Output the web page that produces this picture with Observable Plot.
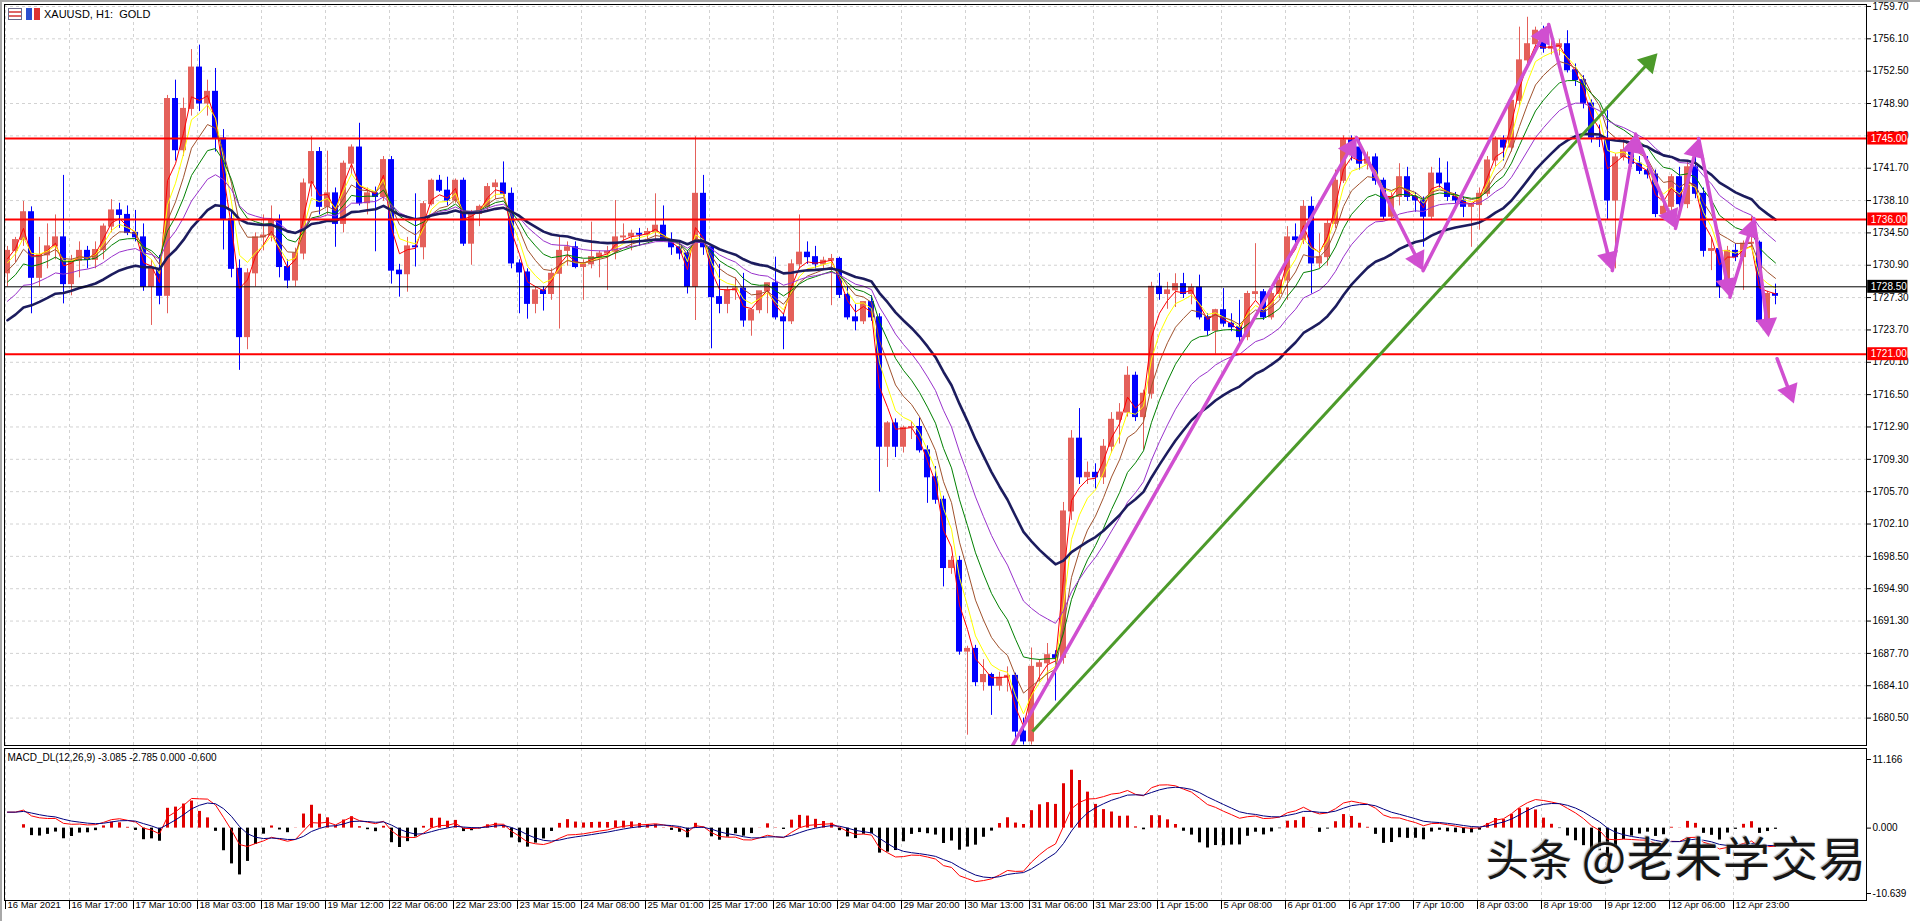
<!DOCTYPE html>
<html><head><meta charset="utf-8">
<script src="https://cdn.jsdelivr.net/npm/d3@7"></script>
<script src="https://cdn.jsdelivr.net/npm/@observablehq/plot@0.6"></script>
<style>
html,body{margin:0;padding:0;background:#fff;width:1920px;height:921px;overflow:hidden;font-family:"Liberation Sans",Arial,sans-serif;}
#wrap{position:relative;width:1920px;height:921px;}
#wrap svg{display:block;}
#title{position:absolute;left:44px;top:8px;font-size:11px;color:#000;white-space:pre;}
.ic{position:absolute;top:8px;width:14px;height:12px;box-sizing:border-box;}
#ic1{left:8px;border:1px solid #6a6a8a;background:linear-gradient(#fff 0 2px,#d66 2px 4px,#fff 4px 6px,#d66 6px 8px,#fff 8px);}
#ic2{left:26px;background:linear-gradient(90deg,#2a4fd0 0 6px,#fff 6px 8px,#d33 8px);}
#wm{position:absolute;left:1486px;top:821px;font-family:"Noto Sans CJK SC",sans-serif;color:#161616;white-space:pre;text-shadow:2px 2px 1px rgba(255,255,255,0.9),-1px -1px 1px rgba(120,120,120,0.6);}
#wm .a{font-size:43px;}
#wm .b{font-size:47px;letter-spacing:1px;}
#topline{position:absolute;left:0;top:0;width:1920px;height:2px;background:#a8a8a8;}
#leftline{position:absolute;left:0;top:0;width:2px;height:921px;background:#a8a8a8;}
</style></head>
<body><div id="wrap"></div>
<script>
// ---------- data (2-hour candles) ----------
const open = [1730.0,1732.5,1733.7,1736.8,1729.5,1732.0,1733.0,1734.0,1728.8,1731.4,
1732.5,1731.5,1732.6,1735.2,1737.0,1736.5,1734.5,1734.0,1728.5,1730.5,
1727.5,1749.4,1743.7,1748.3,1752.9,1748.9,1750.2,1745.0,1736.0,1730.5,
1722.9,1730.0,1734.0,1734.2,1735.9,1730.7,1729.2,1732.2,1740.0,1743.5,
1737.4,1738.9,1735.5,1742.2,1744.0,1737.8,1738.9,1738.5,1742.6,1730.3,
1729.9,1733.0,1732.9,1737.7,1740.3,1739.2,1738.1,1740.3,1733.3,1736.6,
1737.4,1739.6,1740.0,1738.85,1731.1,1730.1,1726.6,1728.1,1727.7,1729.95,
1732.5,1732.9,1730.7,1731.0,1731.8,1732.2,1732.4,1734.0,1734.1,1734.4,
1734.3,1734.6,1735.3,1733.66,1732.9,1732.2,1728.5,1738.85,1732.9,1727.35,
1726.6,1728.1,1728.3,1724.75,1725.9,1728.0,1728.9,1725.1,1724.66,1731.0,
1732.3,1731.8,1731.0,1731.4,1731.6,1727.6,1725.1,1724.66,1726.8,1725.1,
1710.7,1713.3,1710.7,1712.8,1712.9,1710.3,1707.3,1704.8,1697.2,1698.0,
1687.9,1688.2,1684.5,1685.3,1684.1,1685.0,1685.2,1679.0,1677.9,1686.2,
1686.6,1687.5,1687.2,1703.5,1711.6,1707.3,1707.8,1707.3,1710.7,1713.7,
1714.5,1718.6,1714.0,1716.6,1728.5,1727.7,1728.1,1728.8,1727.7,1728.4,
1725.1,1723.6,1725.9,1724.4,1724.0,1722.9,1727.7,1727.9,1725.1,1727.7,
1729.2,1734.0,1733.7,1737.4,1731.1,1731.8,1735.5,1740.3,1744.8,1744.0,
1742.2,1742.9,1740.3,1736.3,1738.5,1740.7,1738.5,1738.1,1736.3,1741.1,
1740.0,1738.5,1738.1,1737.4,1737.6,1738.85,1742.56,1744.8,1744.0,1749.2,
1753.7,1755.5,1757.0,1755.0,1755.2,1755.5,1752.6,1751.5,1748.9,1745.1,
1744.9,1738.1,1742.9,1743.7,1742.2,1741.4,1741.0,1736.6,1737.4,1740.7,
1737.7,1741.8,1738.85,1732.5,1732.7,1728.5,1732.5,1731.8,1733.3,1733.4,
1724.6,1727.7];
const high = [1733.0,1734.0,1738.0,1737.4,1734.0,1735.5,1736.5,1740.9,1732.0,1733.5,
1733.0,1733.5,1735.5,1738.2,1737.8,1737.5,1737.0,1735.5,1731.5,1732.0,
1749.8,1751.5,1749.5,1754.9,1755.4,1751.5,1752.8,1746.0,1737.0,1731.5,
1730.5,1734.5,1736.5,1737.5,1736.5,1731.5,1732.8,1740.5,1745.2,1744.0,
1743.6,1739.5,1742.5,1744.3,1746.7,1739.5,1739.6,1743.0,1743.0,1731.0,
1734.0,1738.85,1738.0,1740.5,1740.9,1740.7,1740.5,1740.6,1737.0,1737.6,
1740.0,1740.4,1742.4,1739.5,1731.5,1730.5,1728.5,1728.5,1730.5,1734.0,
1733.5,1733.5,1731.5,1735.7,1732.5,1733.0,1738.1,1735.5,1734.8,1735.0,
1735.0,1738.85,1737.5,1734.5,1733.5,1732.5,1745.2,1740.9,1733.0,1731.0,
1728.5,1729.5,1730.0,1726.0,1727.8,1728.6,1731.8,1725.5,1731.5,1736.5,
1733.5,1733.0,1731.8,1732.1,1731.8,1728.5,1726.5,1726.8,1727.5,1725.5,
1713.5,1713.8,1713.0,1713.5,1713.9,1710.8,1708.5,1705.2,1698.5,1698.5,
1688.5,1688.6,1687.0,1685.5,1685.6,1686.2,1685.5,1680.5,1688.3,1687.0,
1688.8,1688.0,1704.5,1712.5,1714.95,1709.0,1708.8,1711.5,1714.5,1715.5,
1719.6,1719.0,1717.0,1729.0,1730.0,1729.0,1729.95,1730.0,1728.8,1729.8,
1725.5,1726.0,1728.3,1725.5,1727.0,1728.0,1733.3,1728.2,1728.2,1729.6,
1735.2,1735.5,1738.1,1738.5,1734.4,1736.0,1741.5,1745.3,1745.3,1745.0,
1743.5,1743.3,1740.6,1739.0,1742.2,1741.8,1739.0,1738.5,1741.8,1742.8,
1742.4,1739.0,1738.5,1737.8,1739.5,1743.0,1745.2,1745.3,1749.5,1757.4,
1758.5,1757.4,1757.5,1755.8,1756.0,1757.0,1753.3,1752.0,1749.3,1746.5,
1748.1,1743.3,1745.0,1744.6,1743.0,1743.0,1741.5,1738.5,1741.0,1741.8,
1742.5,1743.1,1739.5,1734.0,1733.0,1733.0,1733.3,1733.6,1736.3,1733.6,
1728.0,1728.8];
const low = [1728.5,1731.2,1733.0,1725.5,1728.5,1730.5,1731.5,1726.6,1727.5,1729.5,
1730.5,1730.5,1731.5,1734.5,1735.0,1734.2,1733.5,1728.0,1724.2,1726.5,
1725.5,1742.5,1743.0,1747.5,1748.0,1747.5,1743.5,1732.6,1729.5,1719.2,
1721.5,1728.5,1732.5,1733.5,1729.5,1728.3,1728.5,1731.5,1738.5,1736.5,
1736.5,1732.9,1734.5,1741.0,1737.5,1736.5,1732.4,1738.0,1728.8,1727.35,
1727.9,1730.7,1731.5,1737.5,1739.0,1737.5,1737.8,1733.0,1730.9,1735.2,
1737.0,1738.2,1738.5,1730.5,1725.5,1724.9,1725.5,1725.8,1727.0,1723.8,
1730.8,1730.5,1727.0,1730.5,1729.5,1728.1,1731.5,1733.5,1732.5,1733.0,
1733.5,1733.8,1733.5,1732.0,1731.5,1727.7,1724.75,1732.0,1721.6,1725.5,
1725.5,1727.0,1724.0,1723.0,1725.5,1725.5,1724.8,1721.5,1724.3,1730.5,
1731.0,1730.5,1730.5,1726.4,1727.2,1724.8,1723.6,1724.3,1724.66,1705.65,
1708.4,1709.5,1710.0,1711.5,1710.0,1704.4,1704.3,1695.1,1696.5,1687.5,
1678.6,1684.0,1683.5,1680.8,1683.5,1683.4,1677.8,1677.5,1677.5,1684.5,
1684.5,1682.4,1686.5,1702.5,1706.5,1706.5,1706.0,1706.5,1710.0,1711.0,
1714.0,1713.5,1710.3,1716.0,1727.0,1726.0,1726.2,1727.2,1726.5,1724.8,
1723.0,1721.0,1724.0,1723.5,1721.8,1722.5,1727.0,1724.76,1724.8,1727.2,
1727.0,1733.0,1733.2,1727.7,1730.5,1730.8,1735.0,1740.0,1742.5,1741.5,
1741.5,1739.8,1735.9,1736.0,1737.5,1738.0,1736.8,1732.9,1736.0,1739.5,
1738.0,1737.5,1736.2,1732.9,1734.8,1738.5,1741.8,1742.5,1743.5,1748.5,
1753.0,1754.5,1754.5,1754.3,1754.2,1752.3,1750.8,1748.3,1744.5,1744.0,
1735.9,1730.5,1742.5,1741.8,1741.0,1740.5,1736.2,1736.0,1736.8,1737.0,
1737.2,1738.3,1731.8,1730.3,1727.2,1728.0,1731.3,1728.1,1732.8,1724.3,
1723.8,1726.5];
const close = [1732.5,1733.7,1736.8,1729.5,1732.0,1733.0,1734.0,1728.8,1731.4,1732.5,
1731.5,1732.6,1735.2,1737.0,1736.5,1734.5,1734.0,1728.5,1730.5,1727.5,
1749.4,1743.7,1748.3,1752.9,1748.9,1750.2,1745.0,1736.0,1730.5,1722.9,
1730.0,1734.0,1734.2,1735.9,1730.7,1729.2,1732.2,1740.0,1743.5,1737.4,
1738.9,1735.5,1742.2,1744.0,1737.8,1738.9,1738.5,1742.6,1730.3,1729.9,
1733.0,1732.9,1737.7,1740.3,1739.2,1738.1,1740.3,1733.3,1736.6,1737.4,
1739.6,1740.0,1738.85,1731.1,1730.1,1726.6,1728.1,1727.7,1729.95,1732.5,
1732.9,1730.7,1731.0,1731.8,1732.2,1732.4,1734.0,1734.1,1734.4,1734.3,
1734.6,1735.3,1733.66,1732.9,1732.2,1728.5,1738.85,1732.9,1727.35,1726.6,
1728.1,1728.3,1724.75,1725.9,1728.0,1728.9,1725.1,1724.66,1731.0,1732.3,
1731.8,1731.0,1731.4,1731.6,1727.6,1725.1,1724.66,1726.8,1725.1,1710.7,
1713.3,1710.7,1712.8,1712.9,1710.3,1707.3,1704.8,1697.2,1698.0,1687.9,
1688.2,1684.5,1685.3,1684.1,1685.0,1685.2,1679.0,1677.9,1686.2,1686.6,
1687.5,1687.2,1703.5,1711.6,1707.3,1707.8,1707.3,1710.7,1713.7,1714.5,
1718.6,1714.0,1716.6,1728.5,1727.7,1728.1,1728.8,1727.7,1728.4,1725.1,
1723.6,1725.9,1724.4,1724.0,1722.9,1727.7,1727.9,1725.1,1727.7,1729.2,
1734.0,1733.7,1737.4,1731.1,1731.8,1735.5,1740.3,1744.8,1744.0,1742.2,
1742.9,1740.3,1736.3,1738.5,1740.7,1738.5,1738.1,1736.3,1741.1,1740.0,
1738.5,1738.1,1737.4,1737.6,1738.85,1742.56,1744.8,1744.0,1749.2,1753.7,
1755.5,1757.0,1755.0,1755.2,1755.5,1752.6,1751.5,1748.9,1745.1,1744.9,
1738.1,1742.9,1743.7,1742.2,1741.4,1741.0,1736.6,1737.4,1740.7,1737.7,
1741.8,1738.85,1732.5,1732.7,1728.5,1732.5,1731.8,1733.3,1733.4,1724.6,
1727.7,1727.5];

const xTickLabels = ["16 Mar 2021","16 Mar 17:00","17 Mar 10:00","18 Mar 03:00","18 Mar 19:00","19 Mar 12:00",
"22 Mar 06:00","22 Mar 23:00","23 Mar 15:00","24 Mar 08:00","25 Mar 01:00","25 Mar 17:00","26 Mar 10:00",
"29 Mar 04:00","29 Mar 20:00","30 Mar 13:00","31 Mar 06:00","31 Mar 23:00","1 Apr 15:00","5 Apr 08:00",
"6 Apr 01:00","6 Apr 17:00","7 Apr 10:00","8 Apr 03:00","8 Apr 19:00","9 Apr 12:00","12 Apr 06:00","12 Apr 23:00"];
const xTickHours = [0,16,32,48,64,80,96,112,128,144,160,176,192,208,224,240,256,272,288,304,320,336,352,368,384,400,416,432];
const yTickValues = [1680.5,1684.1,1687.7,1691.3,1694.9,1698.5,1702.1,1705.7,1709.3,1712.9,1716.5,1720.1,
1723.7,1727.3,1730.9,1734.5,1738.1,1741.7,1745.3,1748.9,1752.5,1756.1,1759.7];
const macdTickValues = [11.166, 0, -10.639];
const redLevels = [1745.0, 1736.0, 1721.0];
const blackLevels = [1728.5];
const maPeriods = [5, 8, 13, 21, 34, 55];
const maSeeds = [1730.5, 1730.3, 1729.5, 1728.3, 1726.2, 1724.2];
const macdSeeds = {fast: 1730.5, slow: 1727.8, signal: 2.6};
// bar = 2 * (DIF - DEA) as in the readout, with extra gain for the coarser 2-hour sampling
const histFactor = 2.6;
// drawn objects: [hour, price]
const pinkZigzag = [[251.75,1677.45],[337.75,1745.1],[354.4,1730.3],[385.8,1757.7],[401.7,1730.3],[407.5,1745.5],
[417.5,1735.0],[423.3,1745.0],[431.1,1727.35],[437.1,1736.1],[440.8,1722.9]];
const pinkExtra = [[442.9,1720.5],[447.1,1715.5]];
const greenTrend = [[256.75,1679.0],[413.0,1754.5]];
const titleText = "XAUUSD, H1:  GOLD";
const macdTitle = "MACD_DL(12,26,9) -3.085 -2.785 0.000 -0.600";
const watermarkA = "头条 ";
const watermarkB = "@老朱学交易";

// ---------- styling / layout ----------
const W = 1920;
const xDomain = [-0.25, 465.25];
const yDomain = [1677.45, 1759.92];
const macdDomain = [-11.778, 12.956];
const bull = "#E4605A", bear = "#0000FF";
const maColors = ["#FF0000", "#FFFF00", "#A0522D", "#008000", "#9932CC", "#1C1C5E"];
const maWidths = [1, 1, 1, 1, 1, 2.6];
const pink = "#D04FD0", green = "#4C9A2A";
const gridStroke = "#d2d2d2";
const font = "Liberation Sans, Arial, sans-serif";

const candles = close.map((c, j) => ({h: 2 * j + 0.5, o: open[j], hi: high[j], lo: low[j], c, up: c >= open[j]}));

function ema(src, period, seed) {
  const a1 = 2 / (period + 1);
  const a = 1 - (1 - a1) * (1 - a1); // two hourly steps per 2-hour candle
  let e = seed;
  return src.map(v => (e += a * (v - e)));
}
const mas = maPeriods.map((p, k) => ema(close, p, maSeeds[k]));
const fast = ema(close, 12, macdSeeds.fast), slow = ema(close, 26, macdSeeds.slow);
const macd = fast.map((f, i) => f - slow[i]);
const signal = ema(macd, 9, macdSeeds.signal);
const hist = macd.map((m, i) => histFactor * (m - signal[i]));

const sx = Plot.scale({x: {domain: xDomain, range: [4, 1866]}});
const sy = Plot.scale({y: {domain: yDomain, range: [745, 4]}});

function arrowParts(points, r) {
  const segs = [], heads = [];
  for (let i = 1; i < points.length; i++) {
    const a = points[i - 1], b = points[i];
    const px1 = sx.apply(a[0]), py1 = sy.apply(a[1]), px2 = sx.apply(b[0]), py2 = sy.apply(b[1]);
    const ang = Math.atan2(py2 - py1, px2 - px1);
    const L = 1.555 * r;
    const cx = px2 - L * Math.cos(ang), cy = py2 - L * Math.sin(ang);
    const hx = sx.invert(cx), hy = sy.invert(cy);
    segs.push({x1: a[0], y1: a[1], x2: hx, y2: hy});
    heads.push({x: hx, y: hy, rot: ang * 180 / Math.PI + 90});
  }
  return {segs, heads};
}
const pinkA = arrowParts(pinkZigzag, 8);
const pinkB = arrowParts(pinkExtra, 8);
const greenA = arrowParts(greenTrend, 8);
const allPinkSegs = pinkA.segs.concat(pinkB.segs);
const allPinkHeads = pinkA.heads.concat(pinkB.heads);

const levelRows = redLevels.map(p => ({p, c: "#FF0000"})).concat(blackLevels.map(p => ({p, c: "#000000"})));

const main = Plot.plot({
  width: W, height: 746, marginLeft: 4, marginRight: 54, marginTop: 4, marginBottom: 1,
  x: {domain: xDomain, axis: null, label: null},
  y: {domain: yDomain, axis: null, label: null},
  color: {type: "identity"},
  style: {background: "transparent", fontFamily: font, fontSize: "10px", color: "#000"},
  marks: [
    Plot.ruleY(yTickValues, {stroke: gridStroke, strokeDasharray: "3,3"}),
    Plot.ruleX(xTickHours, {stroke: gridStroke, strokeDasharray: "3,3"}),
    Plot.ruleX(candles, {x: "h", y1: "lo", y2: "hi", stroke: d => d.up ? bull : bear, strokeWidth: 1}),
    Plot.rect(candles, {x1: d => d.h - 0.75, x2: d => d.h + 0.75, y1: "o", y2: "c", fill: d => d.up ? bull : bear, insetTop: -0.5, insetBottom: -0.5}),
    ...mas.map((vals, k) => Plot.line(candles, {x: "h", y: (d, i) => vals[i], stroke: maColors[k], strokeWidth: maWidths[k]})),
    Plot.ruleY(redLevels, {stroke: "#FF0000", strokeWidth: 2}),
    Plot.ruleY(blackLevels, {stroke: "#000", strokeWidth: 1}),
    Plot.link(greenA.segs, {x1: "x1", y1: "y1", x2: "x2", y2: "y2", stroke: green, strokeWidth: 3}),
    Plot.dot(greenA.heads, {x: "x", y: "y", r: 8, symbol: "triangle", rotate: "rot", fill: green, stroke: null}),
    Plot.link(allPinkSegs, {x1: "x1", y1: "y1", x2: "x2", y2: "y2", stroke: pink, strokeWidth: 3.5, strokeLinecap: "round"}),
    Plot.dot(allPinkHeads, {x: "x", y: "y", r: 8, symbol: "triangle", rotate: "rot", fill: pink, stroke: null}),
    Plot.axisY(yTickValues, {anchor: "right", label: null, tickFormat: d => d.toFixed(2), tickSize: 4, tickPadding: 2, fontSize: 10, stroke: "#000"}),
    Plot.rect(levelRows, {x1: 465.55, x2: 475.6, y1: d => d.p - 0.72, y2: d => d.p + 0.72, fill: "c"}),
    Plot.text(levelRows, {x: 465.55, y: "p", text: d => d.p.toFixed(2), dx: 3, textAnchor: "start", fill: "white", fontSize: 10}),
    Plot.frame({stroke: "#000"})
  ]
});

const macdPlot = Plot.plot({
  width: W, height: 175, marginLeft: 4, marginRight: 54, marginTop: 2, marginBottom: 21,
  x: {domain: xDomain, axis: null, label: null},
  y: {domain: macdDomain, axis: null, label: null},
  color: {type: "identity"},
  style: {background: "transparent", fontFamily: font, fontSize: "10px", color: "#000"},
  marks: [
    Plot.ruleX(xTickHours, {stroke: gridStroke, strokeDasharray: "3,3"}),
    Plot.ruleX(candles, {x: "h", y1: 0, y2: (d, i) => hist[i], stroke: (d, i) => hist[i] >= 0 ? "#E00000" : "#000000", strokeWidth: 3}),
    Plot.line(candles, {x: "h", y: (d, i) => macd[i], stroke: "#FF0000", strokeWidth: 1}),
    Plot.line(candles, {x: "h", y: (d, i) => signal[i], stroke: "#000080", strokeWidth: 1}),
    Plot.text([macdTitle], {frameAnchor: "top-left", dx: 3, dy: 5, textAnchor: "start", lineAnchor: "top", fontSize: 10, fill: "#000"}),
    Plot.axisY(macdTickValues, {anchor: "right", label: null, tickFormat: d => d.toFixed(3), tickSize: 4, tickPadding: 2, fontSize: 10}),
    Plot.axisX(xTickHours, {anchor: "bottom", label: null, tickSize: 9, tickFormat: () => "", stroke: "#000"}),
    Plot.text(xTickHours, {x: d => d, text: (d, i) => xTickLabels[i], frameAnchor: "bottom", dy: 1, dx: 2, textAnchor: "start", lineAnchor: "top", fontSize: 9.5, fill: "#000"}),
    Plot.frame({stroke: "#000"})
  ]
});

const wrap = document.getElementById("wrap");
wrap.appendChild(main);
wrap.appendChild(macdPlot);
for (const [id, cls, txt] of [["topline"], ["leftline"], ["ic1", "ic"], ["ic2", "ic"], ["title", "", titleText]]) {
  const d = document.createElement("div");
  d.id = id; if (cls) d.className = cls; if (txt) d.textContent = txt;
  wrap.appendChild(d);
}
const wm = document.createElement("div");
wm.id = "wm";
const sa = document.createElement("span"); sa.className = "a"; sa.textContent = watermarkA;
const sb = document.createElement("span"); sb.className = "b"; sb.textContent = watermarkB;
wm.appendChild(sa); wm.appendChild(sb);
wrap.appendChild(wm);
</script>
</body></html>
